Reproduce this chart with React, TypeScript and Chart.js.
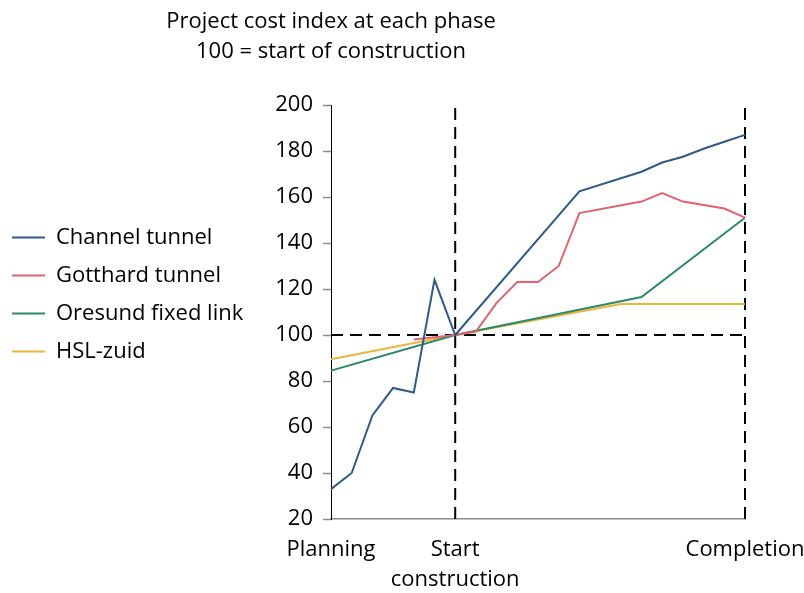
import React, { useEffect, useRef } from 'react';
import { Chart, registerables } from 'chart.js';

Chart.register(...registerables);

// Title lines
const titleLines = ['Project cost index at each phase', '100 = start of construction'];

// Phase axis: 0 = Planning, 6 = Start of construction, 20 = Completion
const phaseTicks = [0, 6, 20];
const phaseLabels: (string | string[])[] = ['Planning', ['Start', 'construction'], 'Completion'];

// Series (phase step positions and cost index values)
const channelSteps = [0, 1, 2, 3, 4, 5, 6, 12, 15, 16, 17, 18, 19, 20];
const channelValues = [33, 40, 65, 77, 75, 124, 100, 162.5, 171, 175, 177.5, 181, 184, 187];

const gotthardSteps = [4, 5, 6, 7, 8, 9, 10, 11, 12, 15, 16, 17, 19, 20];
const gotthardValues = [98, 99, 100, 101.5, 114, 123, 123, 130, 153, 158, 161.7, 158, 155, 151];

const oresundSteps = [0, 6, 15, 20];
const oresundValues = [84.5, 100, 116.5, 151];

const hslSteps = [0, 6, 14, 20];
const hslValues = [89.5, 100, 113.5, 113.5];

const seriesNames = ['Channel tunnel', 'Gotthard tunnel', 'Oresund fixed link', 'HSL-zuid'];
const seriesColors = ['#2F5A8C', '#E0646F', '#2A8A66', '#F0B43E'];

// Reference lines
const baselineValue = 100;
const yMin = 20;
const yMax = 200;
const markerSteps = [6, 20];

const FONT = '"Open Sans", "DejaVu Sans", sans-serif';
const FONT_SIZE = 22;
const PAD_LEFT = -4;
const PLOT_LEFT = 331;

const toPoints = (xs: number[], ys: number[]) => xs.map((x, i) => ({ x, y: ys[i] }));

const titlePlugin = {
  id: 'centeredTitle',
  afterDraw(chart: any) {
    const { ctx, chartArea } = chart;
    ctx.save();
    ctx.font = `${FONT_SIZE}px ${FONT}`;
    ctx.fillStyle = '#000';
    ctx.textAlign = 'center';
    ctx.textBaseline = 'middle';
    titleLines.forEach((t, i) => ctx.fillText(t, chartArea.left, 22 + i * 30));
    ctx.restore();
  },
};

export default function App() {
  const canvasRef = useRef<HTMLCanvasElement | null>(null);

  useEffect(() => {
    if (!canvasRef.current) return;
    const seriesData = [
      toPoints(channelSteps, channelValues),
      toPoints(gotthardSteps, gotthardValues),
      toPoints(oresundSteps, oresundValues),
      toPoints(hslSteps, hslValues),
    ];
    const series = seriesData.map((d, i) => ({
      label: seriesNames[i],
      data: d,
      borderColor: seriesColors[i],
      backgroundColor: seriesColors[i],
      borderWidth: 2,
      pointRadius: 0,
      tension: 0,
      fill: false,
      clip: false,
    }));
    const refLines = [
      {
        label: '__ref',
        data: [
          { x: 0, y: baselineValue },
          { x: 20, y: baselineValue },
        ],
      },
      ...markerSteps.map((s) => ({
        label: '__ref',
        data: [
          { x: s, y: yMin },
          { x: s, y: yMax },
        ],
      })),
    ].map((d) => ({
      ...d,
      borderColor: '#000',
      borderWidth: 2,
      borderDash: [12, 7],
      pointRadius: 0,
      fill: false,
      clip: false,
    }));

    const chart = new Chart(canvasRef.current, {
      type: 'line',
      data: { datasets: [...series, ...refLines] as any },
      plugins: [titlePlugin],
      options: {
        animation: false,
        responsive: true,
        maintainAspectRatio: false,
        layout: { padding: { left: PAD_LEFT, right: 59, top: 105, bottom: 0 } },
        plugins: {
          tooltip: { enabled: false },
          title: { display: false },
          legend: {
            position: 'left',
            align: 'start',
            fullSize: false,
            maxWidth: 300,
            title: { display: true, text: '', padding: { top: 91.2, bottom: 0 }, font: { size: 12, lineHeight: 1.2 } },
            labels: {
              usePointStyle: true,
              pointStyle: 'line',
              pointStyleWidth: 33,
              padding: 16,
              color: '#000',
              font: { family: FONT, size: FONT_SIZE },
              filter: (item: any) => item.text !== '__ref',
            },
          },
        },
        scales: {
          x: {
            type: 'linear',
            min: 0,
            max: 20,
            afterBuildTicks: (scale: any) => {
              scale.ticks = phaseTicks.map((v) => ({ value: v }));
            },
            afterFit: (scale: any) => {
              scale.height = 74;
              scale.paddingLeft = 0;
              scale.paddingRight = 0;
            },
            grid: { display: false, drawTicks: false },
            border: { display: true, color: '#8C8C8C', width: 1.5 },
            ticks: {
              autoSkip: false,
              maxRotation: 0,
              minRotation: 0,
              padding: 16,
              color: '#000',
              font: { family: FONT, size: FONT_SIZE, lineHeight: 30 / FONT_SIZE },
              callback: (value: any) => {
                const idx = phaseTicks.indexOf(Number(value));
                return idx >= 0 ? (phaseLabels[idx] as any) : '';
              },
            },
          },
          y: {
            type: 'linear',
            min: yMin,
            max: yMax,
            afterFit: (scale: any) => {
              const lw = scale.chart.legend ? scale.chart.legend.width : 0;
              scale.width = Math.max(50, PLOT_LEFT - PAD_LEFT - lw);
            },
            grid: { drawOnChartArea: false, drawTicks: true, tickLength: 8, tickColor: '#8C8C8C', tickWidth: 1.5 },
            border: { display: true, color: '#000', width: 1 },
            ticks: {
              stepSize: 20,
              padding: 10,
              color: '#000',
              font: { family: FONT, size: FONT_SIZE },
            },
          },
        },
      },
    });
    return () => chart.destroy();
  }, []);

  return (
    <div style={{ position: 'fixed', left: 0, top: 0, width: 804, height: 593, background: '#fff' }}>
      <canvas ref={canvasRef} />
    </div>
  );
}
